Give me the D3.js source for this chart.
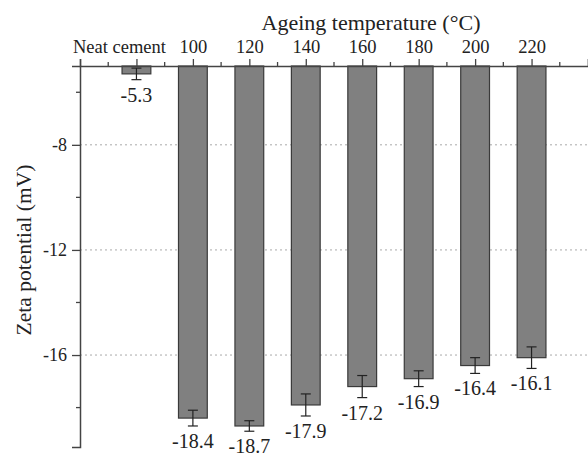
<!DOCTYPE html>
<html>
<head>
<meta charset="utf-8">
<script src="https://cdn.jsdelivr.net/npm/d3@7"></script>
<style>
  body { margin: 0; background: #fff; }
</style>
</head>
<body>
<div class="canvas"></div>
<script>
const categories = ['Neat cement', '100', '120', '140', '160', '180', '200', '220'];
const zeta = [-5.3, -18.4, -18.7, -17.9, -17.2, -16.9, -16.4, -16.1];
const errors = [0.22, 0.3, 0.2, 0.42, 0.42, 0.3, 0.3, 0.41];
const yTicks = [-8, -12, -16];
const yMinor = [-6, -10, -14, -18];

const FONT = '"Liberation Serif", "Times New Roman", serif';
const dims = {width: 588, height: 454};
const margin = {left: 80, top: 66, right: 0, bottom: 7};

const svg = d3.select('.canvas')
    .append('svg')
    .attr('width', dims.width)
    .attr('height', dims.height);

const x = d3.scaleLinear()
    .domain([0, categories.length + 1])
    .range([margin.left, dims.width - margin.right]);

const y = d3.scaleLinear()
    .domain([-5, -19.5])
    .range([margin.top, dims.height - margin.bottom]);

const barW = x(0.51) - x(0);

// dotted grid lines
svg.append('g')
    .selectAll('line')
    .data(yTicks)
    .enter().append('line')
    .attr('x1', x(0)).attr('x2', x(categories.length + 1))
    .attr('y1', d => y(d)).attr('y2', d => y(d))
    .attr('stroke', '#aaa')
    .attr('stroke-width', 1)
    .attr('stroke-dasharray', '2,3');

// bars
const data = categories.map((c, i) => ({cat: c, val: zeta[i], err: errors[i], pos: i + 1}));

svg.append('g')
    .selectAll('rect')
    .data(data)
    .enter().append('rect')
    .attr('x', d => x(d.pos) - barW / 2)
    .attr('y', y(-5))
    .attr('width', barW)
    .attr('height', d => y(d.val) - y(-5))
    .attr('fill', '#808080')
    .attr('stroke', '#3a3a3a')
    .attr('stroke-width', 1.2);

// error bars
const eb = svg.append('g')
    .selectAll('g')
    .data(data)
    .enter().append('g')
    .attr('stroke', '#222')
    .attr('stroke-width', 1.2);

eb.append('line')
    .attr('x1', d => x(d.pos)).attr('x2', d => x(d.pos))
    .attr('y1', d => y(d.val + d.err)).attr('y2', d => y(d.val - d.err));
eb.append('line')
    .attr('x1', d => x(d.pos) - 5).attr('x2', d => x(d.pos) + 5)
    .attr('y1', d => y(d.val + d.err)).attr('y2', d => y(d.val + d.err));
eb.append('line')
    .attr('x1', d => x(d.pos) - 5).attr('x2', d => x(d.pos) + 5)
    .attr('y1', d => y(d.val - d.err)).attr('y2', d => y(d.val - d.err));

// value labels
svg.append('g')
    .selectAll('text')
    .data(data)
    .enter().append('text')
    .attr('x', d => x(d.pos))
    .attr('y', d => y(d.val - d.err) + 22)
    .attr('text-anchor', 'middle')
    .attr('font-family', FONT)
    .attr('font-size', 20)
    .attr('fill', '#222')
    .text(d => d.val.toFixed(1));

// top axis
const xAxis = d3.axisTop(x)
    .tickValues(d3.range(0, categories.length + 2))
    .tickSize(7)
    .tickFormat(d => (d >= 1 && d <= categories.length) ? categories[d - 1] : '');

const gx = svg.append('g')
    .attr('transform', `translate(0, ${y(-5)})`)
    .call(xAxis);
gx.select('.domain').attr('stroke', '#444').attr('stroke-width', 1.5);
gx.selectAll('.tick line').attr('stroke', '#444').attr('stroke-width', 1.3);
gx.selectAll('.tick text')
    .attr('font-family', FONT)
    .attr('font-size', 18.5)
    .attr('fill', '#222')
    .attr('y', -13);
// the long first label sits left of its tick, as in the original
gx.selectAll('.tick text')
    .filter(d => d === 1)
    .attr('text-anchor', 'end')
    .attr('x', 29);

svg.append('g')
    .selectAll('line')
    .data(d3.range(0.5, categories.length + 1, 1))
    .enter().append('line')
    .attr('x1', d => x(d)).attr('x2', d => x(d))
    .attr('y1', y(-5)).attr('y2', y(-5) - 4)
    .attr('stroke', '#444').attr('stroke-width', 1.3);

// left axis
const yAxis = d3.axisLeft(y)
    .tickValues(yTicks)
    .tickSize(8)
    .tickFormat(d => String(d));

const gy = svg.append('g')
    .attr('transform', `translate(${x(0)}, 0)`)
    .call(yAxis);
gy.select('.domain').attr('stroke', '#444').attr('stroke-width', 1.5);
gy.selectAll('.tick line').attr('stroke', '#444').attr('stroke-width', 1.3);
gy.selectAll('.tick text')
    .attr('font-family', FONT)
    .attr('font-size', 18)
    .attr('fill', '#222')
    .attr('x', -13);

svg.append('g')
    .selectAll('line')
    .data(yMinor)
    .enter().append('line')
    .attr('x1', x(0) - 4).attr('x2', x(0))
    .attr('y1', d => y(d)).attr('y2', d => y(d))
    .attr('stroke', '#444').attr('stroke-width', 1.3);

// titles
svg.append('text')
    .attr('x', 371)
    .attr('y', 30)
    .attr('text-anchor', 'middle')
    .attr('font-family', FONT)
    .attr('font-size', 22)
    .attr('fill', '#222')
    .text('Ageing temperature (°C)');

svg.append('text')
    .attr('transform', `translate(31, 250) rotate(-90)`)
    .attr('text-anchor', 'middle')
    .attr('font-family', FONT)
    .attr('font-size', 21.5)
    .attr('fill', '#222')
    .text('Zeta potential (mV)');
</script>
</body>
</html>
